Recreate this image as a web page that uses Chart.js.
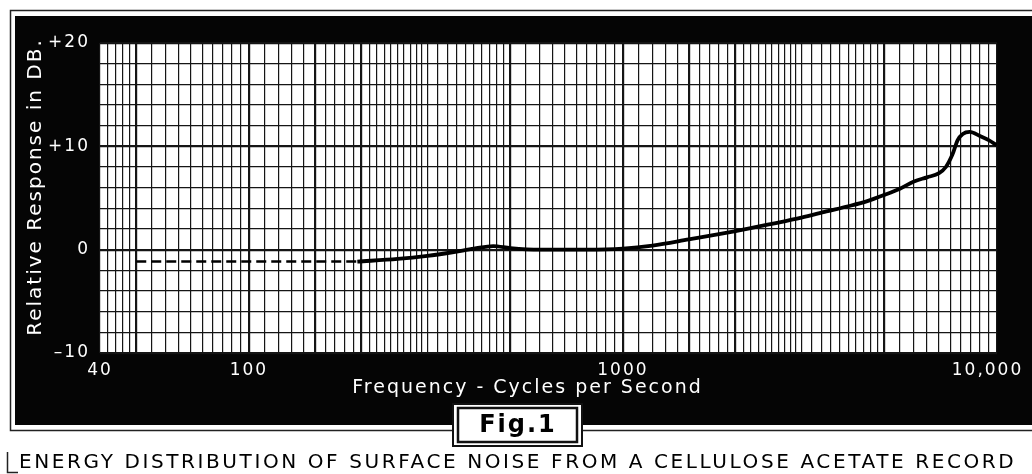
<!DOCTYPE html>
<html>
<head>
<meta charset="utf-8">
<script src="https://cdn.jsdelivr.net/npm/chart.js@4.4.1/dist/chart.umd.min.js"></script>
<style>
  html, body { margin: 0; padding: 0; background: #fff; }
  #wrap { width: 1032px; height: 474px; }
</style>
</head>
<body>
<div id="wrap"><canvas id="noiseChart" width="1032" height="474"></canvas></div>
<script>
// measured curve, frequency (c/s) vs relative response (dB)
const curveFreq = [195, 250, 300, 350, 400, 450, 500, 600, 800, 1000, 1200, 1500, 2000, 2500, 3000, 3500, 4000, 4500, 5000, 5500, 6000, 6500, 7000, 7300, 7600, 7850, 8100, 8450, 9000, 9500, 10000];
const curveDb   = [-1.15, -0.9, -0.6, -0.25, 0.1, 0.35, 0.15, 0.0, 0.0, 0.1, 0.4, 1.0, 1.8, 2.5, 3.1, 3.7, 4.2, 4.7, 5.3, 5.9, 6.6, 7.0, 7.4, 8.0, 9.2, 10.6, 11.2, 11.4, 11.0, 10.6, 10.1];

// low end, drawn dashed
const dashFreq = [50, 195];
const dashDb   = [-1.15, -1.15];

// axis labels
const xTickLabels = { 40: '40', 100: '100', 1000: '1000', 10000: '10,000\u2003' };
const yTickLabels = { 20: '+20', 10: '+10', 0: '0', '-10': '\u201310' };

// rulings of the log paper: [from, to, step]
const xRulingSteps = [[40, 50, 2], [50, 100, 5], [100, 300, 10], [300, 500, 20], [500, 1000, 50], [1000, 3000, 100], [3000, 5000, 200], [5000, 10000, 500]];
const xHeavyLines = [50, 100, 150, 200, 500, 1000, 1500, 2000, 5000];
const yHeavyLines = [-10, 0, 10, 20];

const xRulings = [];
xRulingSteps.forEach(([a, b, s]) => {
  for (let v = a; v < b; v += s) xRulings.push(v);
});
xRulings.push(10000);

const toPoints = (xs, ys) => xs.map((x, i) => ({ x: x, y: ys[i] }));

const FONT = '"DejaVu Sans", sans-serif';

// black frame, white plot paper, caption
const paperPlugin = {
  id: 'paper',
  beforeDraw(chart) {
    const ctx = chart.ctx;
    const a = chart.chartArea;
    ctx.save();
    ctx.fillStyle = '#fff';
    ctx.fillRect(0, 0, chart.width, chart.height);
    ctx.fillStyle = '#050505';
    ctx.fillRect(15, 16, chart.width - 15, 409);
    ctx.strokeStyle = '#222';
    ctx.lineWidth = 1.5;
    ctx.beginPath();
    ctx.moveTo(chart.width, 10.5);
    ctx.lineTo(10.5, 10.5);
    ctx.lineTo(10.5, 430.5);
    ctx.lineTo(chart.width, 430.5);
    ctx.stroke();
    ctx.fillStyle = '#fff';
    ctx.fillRect(a.left, a.top, a.right - a.left, a.bottom - a.top);
    ctx.restore();
    ctx.letterSpacing = '2px';
  },
  afterDraw(chart) {
    const ctx = chart.ctx;
    ctx.save();
    // Fig.1 box
    ctx.fillStyle = '#fff';
    ctx.fillRect(452, 403, 131, 44);
    ctx.strokeStyle = '#111';
    ctx.lineWidth = 2;
    ctx.strokeRect(453, 404, 129, 42);
    ctx.lineWidth = 2.5;
    ctx.strokeRect(458, 408, 119, 34);
    ctx.fillStyle = '#000';
    ctx.font = 'bold 24px ' + FONT;
    ctx.letterSpacing = '2px';
    ctx.textAlign = 'center';
    ctx.textBaseline = 'middle';
    ctx.fillText('Fig.1', 518, 426);
    // caption
    ctx.font = '20px ' + FONT;
    ctx.letterSpacing = '2.6px';
    ctx.textAlign = 'left';
    ctx.textBaseline = 'middle';
    ctx.fillText('ENERGY DISTRIBUTION OF SURFACE NOISE FROM A CELLULOSE ACETATE RECORD', 19, 463);
    ctx.strokeStyle = '#222';
    ctx.lineWidth = 1.5;
    ctx.beginPath();
    ctx.moveTo(7.5, 452);
    ctx.lineTo(7.5, 472.5);
    ctx.lineTo(18, 472.5);
    ctx.stroke();
    ctx.restore();
  }
};

const ctx = document.getElementById('noiseChart').getContext('2d');
const chart = new Chart(ctx, {
  type: 'line',
  data: {
    datasets: [
      {
        label: 'Surface noise',
        data: toPoints(curveFreq, curveDb),
        borderColor: '#000',
        borderWidth: 3.8,
        pointRadius: 0,
        cubicInterpolationMode: 'monotone',
        fill: false
      },
      {
        label: 'Extrapolated',
        data: toPoints(dashFreq, dashDb),
        borderColor: '#000',
        borderWidth: 2.6,
        borderDash: [10, 5],
        pointRadius: 0,
        fill: false
      }
    ]
  },
  options: {
    responsive: false,
    animation: false,
    layout: { padding: { left: 0, top: 43, right: 35, bottom: 75 } },
    plugins: {
      legend: { display: false },
      tooltip: { enabled: false }
    },
    scales: {
      x: {
        type: 'logarithmic',
        min: 40,
        max: 10000,
        afterBuildTicks(scale) {
          scale.ticks = xRulings.map(v => ({ value: v }));
        },
        afterFit(scale) {
          scale.height = 46;
          scale.paddingLeft = 0;
          scale.paddingRight = 0;
        },
        grid: {
          color: '#151515',
          lineWidth: c => (c.tick && xHeavyLines.includes(c.tick.value)) ? 2.2 : 1.2,
          drawTicks: false
        },
        border: { display: false },
        ticks: {
          autoSkip: false,
          maxRotation: 0,
          padding: 7,
          color: '#fff',
          font: { family: FONT, size: 17 },
          callback: v => xTickLabels[v] || ''
        },
        title: {
          display: true,
          text: 'Frequency - Cycles per Second\u2003\u2003',
          color: '#fff',
          font: { family: FONT, size: 19 },
          padding: { top: 0, bottom: 0 }
        }
      },
      y: {
        min: -10,
        max: 20,
        afterFit(scale) {
          scale.width = 100;
          scale.paddingTop = 0;
          scale.paddingBottom = 0;
        },
        grid: {
          color: '#151515',
          lineWidth: c => (c.tick && yHeavyLines.includes(c.tick.value)) ? 2.2 : 1.2,
          drawTicks: false
        },
        border: { display: false },
        ticks: {
          stepSize: 2,
          autoSkip: false,
          padding: 10,
          color: '#fff',
          font: { family: FONT, size: 17 },
          callback: v => yTickLabels[v] || ''
        },
        title: {
          display: true,
          text: '\u2003Relative Response in DB.',
          color: '#fff',
          font: { family: FONT, size: 20 },
          padding: { top: 24, bottom: 0 }
        }
      }
    }
  },
  plugins: [paperPlugin]
});
</script>
</body>
</html>
